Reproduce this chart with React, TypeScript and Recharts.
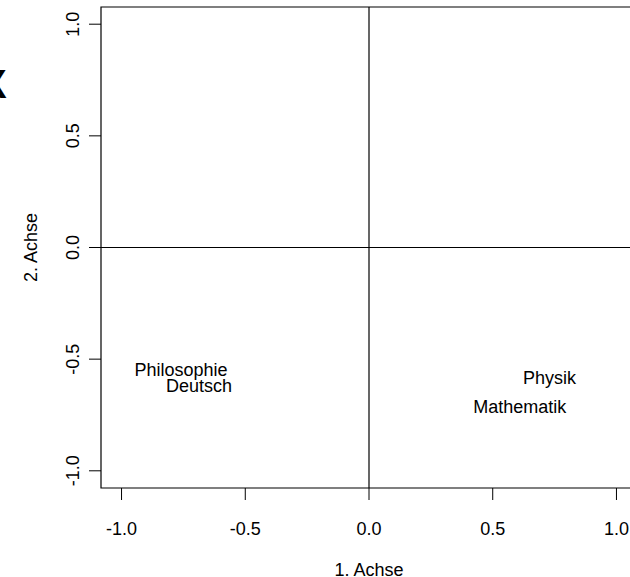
import React from 'react';
import { ScatterChart, Scatter, XAxis, YAxis, ReferenceLine, ReferenceArea, Label } from 'recharts';

const labels = ['Philosophie', 'Deutsch', 'Physik', 'Mathematik'];
const dim1 = [-0.76, -0.687, 0.729, 0.609];
const dim2 = [-0.547, -0.62, -0.583, -0.713];
const xTicks = [-1, -0.5, 0, 0.5, 1];
const yTicks = [-1, -0.5, 0, 0.5, 1];
const xDomain: [number, number] = [-1.083, 1.083];
const yDomain: [number, number] = [-1.077, 1.077];
const xTitle = '1. Achse';
const yTitle = '2. Achse';

const data = labels.map((name, i) => ({ name, x: dim1[i], y: dim2[i] }));

const FONT = '"Liberation Sans", Arial, Helvetica, sans-serif';
const FS = 18;

const XTick = (p: any) => (
  <text x={p.x} y={p.y + 33} textAnchor="middle" fontFamily={FONT} fontSize={FS} fill="#000">
    {Number(p.payload.value).toFixed(1)}
  </text>
);

const YTick = (p: any) => {
  const tx = p.x - 8;
  return (
    <text
      x={tx}
      y={p.y}
      textAnchor="middle"
      transform={`rotate(-90, ${tx}, ${p.y})`}
      fontFamily={FONT}
      fontSize={FS}
      fill="#000"
    >
      {Number(p.payload.value).toFixed(1)}
    </text>
  );
};

const WordShape = (p: any) => (
  <text
    x={p.cx}
    y={p.cy + 6.5}
    textAnchor="middle"
    fontFamily={FONT}
    fontSize={FS}
    fill="#000"
  >
    {p.payload.name}
  </text>
);

export default function App() {
  return (
    <div style={{ position: 'fixed', left: 0, top: 0, width: 630, height: 577, overflow: 'hidden', background: '#fff' }}>
      <span
        style={{
          position: 'absolute',
          left: -20,
          top: 60,
          width: 26,
          textAlign: 'center',
          fontFamily: FONT,
          fontWeight: 'bold',
          fontSize: 40,
          lineHeight: '48px',
          color: '#000',
        }}
      >
        X
      </span>
      <ScatterChart width={660} height={577} margin={{ top: 7, right: 23, bottom: 0, left: 0 }}>
        <XAxis
          type="number"
          dataKey="x"
          domain={xDomain}
          allowDataOverflow
          ticks={xTicks}
          interval={0}
          axisLine={false}
          tickLine={{ stroke: '#000', strokeWidth: 1 }}
          tickSize={12}
          tick={XTick}
          height={89}
        >
          <Label
            content={(lp: any) => {
              const vb = lp.viewBox || {};
              return (
                <text
                  x={vb.x + vb.width / 2}
                  y={vb.y + 88}
                  textAnchor="middle"
                  fontFamily={FONT}
                  fontSize={FS}
                  fill="#000"
                >
                  {xTitle}
                </text>
              );
            }}
          />
        </XAxis>
        <YAxis
          type="number"
          dataKey="y"
          domain={yDomain}
          allowDataOverflow
          ticks={yTicks}
          interval={0}
          axisLine={false}
          tickLine={{ stroke: '#000', strokeWidth: 1 }}
          tickSize={12}
          tick={YTick}
          width={101}
        >
          <Label
            content={(lp: any) => {
              const vb = lp.viewBox || {};
              const cx = 37;
              const cy = vb.y + vb.height / 2;
              return (
                <text
                  x={cx}
                  y={cy}
                  textAnchor="middle"
                  transform={`rotate(-90, ${cx}, ${cy})`}
                  fontFamily={FONT}
                  fontSize={FS}
                  fill="#000"
                >
                  {yTitle}
                </text>
              );
            }}
          />
        </YAxis>
        <ReferenceArea
          x1={xDomain[0]}
          x2={xDomain[1]}
          y1={yDomain[0]}
          y2={yDomain[1]}
          fill="none"
          fillOpacity={0}
          stroke="#000"
          strokeWidth={1.2}
          ifOverflow="visible"
        />
        <ReferenceLine x={0} stroke="#000" strokeWidth={1.2} />
        <ReferenceLine y={0} stroke="#000" strokeWidth={1.2} />
        <Scatter data={data} isAnimationActive={false} shape={WordShape} />
      </ScatterChart>
    </div>
  );
}
